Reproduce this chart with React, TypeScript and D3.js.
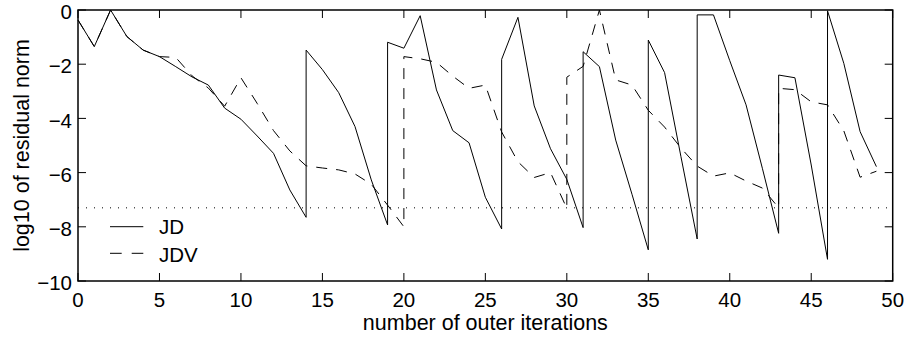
import React from "react";
import * as d3 from "d3";

// iteration index / log10 residual, restarts repeat the x value (vertical jumps)
const jdX = [0, 1, 2, 3, 4, 5, 6, 7, 8, 9, 10, 11, 12, 13, 14, 14, 15, 16, 17, 18, 19, 19, 20, 21, 22, 23, 24, 25, 26, 26, 27, 28, 29, 30, 31, 31, 32, 33, 34, 35, 35, 36, 37, 38, 38, 39, 40, 41, 42, 43, 43, 44, 45, 46, 46, 47, 48, 49];
const jdY = [-0.37, -1.35, 0, -0.98, -1.48, -1.72, -2.09, -2.47, -2.77, -3.62, -4.03, -4.65, -5.29, -6.64, -7.65, -1.48, -2.2, -3.05, -4.3, -6.27, -7.93, -1.19, -1.41, -0.21, -2.95, -4.45, -4.9, -6.91, -8.08, -1.82, -0.27, -3.54, -5.12, -6.25, -8.03, -1.54, -2.09, -4.8, -6.8, -8.85, -1.11, -2.31, -5.4, -8.45, -0.18, -0.18, -1.87, -3.5, -5.84, -8.24, -2.4, -2.5, -5.72, -9.2, -0.03, -1.97, -4.49, -5.78];

const jdvX = [0, 1, 2, 3, 4, 5, 6, 7, 8, 9, 10, 11, 12, 13, 14, 15, 16, 17, 18, 19, 20, 20, 21, 22, 23, 24, 25, 26, 27, 28, 29, 30, 30, 31, 32, 33, 34, 35, 36, 37, 38, 39, 40, 41, 42, 43, 43, 44, 45, 46, 47, 48, 49];
const jdvY = [-0.37, -1.35, 0, -0.98, -1.48, -1.72, -1.75, -2.43, -2.88, -3.55, -2.5, -3.45, -4.45, -5.2, -5.75, -5.83, -5.9, -6.05, -6.43, -7.2, -8.0, -1.72, -1.8, -1.93, -2.44, -2.89, -2.77, -4.5, -5.6, -6.18, -6.0, -7.32, -2.48, -2.08, 0, -2.58, -2.77, -3.7, -4.32, -5.09, -5.76, -6.13, -6.01, -6.31, -6.57, -7.3, -2.89, -2.94, -3.39, -3.5, -4.46, -6.17, -5.95];

const tolerance = -7.3;
const xTicks = [0, 5, 10, 15, 20, 25, 30, 35, 40, 45, 50];
const yTicks = [-10, -8, -6, -4, -2, 0];
const seriesNames = ["JD", "JDV"];

const W = 906;
const H = 339;
const font = "'Liberation Sans', Arial, Helvetica, sans-serif";

export default function App() {
  const x = d3.scaleLinear().domain([0, 50]).range([78, 892.7]);
  const y = d3.scaleLinear().domain([-10, 0]).range([281, 10]);
  const [x0, x1] = x.range();
  const [y0, y1] = y.range();
  const tick = 8;

  const path = (xs: number[], ys: number[]) =>
    d3
      .line<number>()
      .x((i) => x(xs[i]))
      .y((i) => y(ys[i]))(d3.range(xs.length)) || "";

  return (
    <svg
      width={W}
      height={H}
      style={{ position: "absolute", left: 0, top: 0, background: "#fff" }}
      fontFamily={font}
    >
      {/* tolerance */}
      <line
        x1={x0}
        x2={x1}
        y1={y(tolerance)}
        y2={y(tolerance)}
        stroke="#000"
        strokeWidth={1}
        strokeDasharray="1,7"
      />

      <path d={path(jdX, jdY)} fill="none" stroke="#000" strokeWidth={1} />
      <path
        d={path(jdvX, jdvY)}
        fill="none"
        stroke="#000"
        strokeWidth={1}
        strokeDasharray="11,9"
      />

      {/* frame */}
      <rect
        x={x0}
        y={y1}
        width={x1 - x0}
        height={y0 - y1}
        fill="none"
        stroke="#000"
        strokeWidth={1.5}
      />

      {xTicks.map((t) => (
        <g key={"x" + t}>
          <line x1={x(t)} x2={x(t)} y1={y0} y2={y0 - tick} stroke="#000" />
          <line x1={x(t)} x2={x(t)} y1={y1} y2={y1 + tick} stroke="#000" />
          <text x={x(t)} y={y0 + 26} textAnchor="middle" fontSize={20.5}>
            {t}
          </text>
        </g>
      ))}
      {yTicks.map((t) => (
        <g key={"y" + t}>
          <line x1={x0} x2={x0 + tick} y1={y(t)} y2={y(t)} stroke="#000" />
          <line x1={x1} x2={x1 - tick} y1={y(t)} y2={y(t)} stroke="#000" />
          <text x={x0 - 6} y={y(t)} dy="0.45em" textAnchor="end" fontSize={20.5}>
            {t < 0 ? "\u2212" + Math.abs(t) : t}
          </text>
        </g>
      ))}

      <text x={(x0 + x1) / 2} y={330} textAnchor="middle" fontSize={21.5}>
        number of outer iterations
      </text>
      <text
        transform={`translate(29,${(y0 + y1) / 2}) rotate(-90)`}
        textAnchor="middle"
        fontSize={21.5}
      >
        log10 of residual norm
      </text>

      {/* legend */}
      {seriesNames.map((name, i) => (
        <g key={name}>
          <line
            x1={110}
            x2={143.3}
            y1={226.7 + i * 26.6}
            y2={226.7 + i * 26.6}
            stroke="#000"
            strokeDasharray={i === 1 ? "11.7,10" : undefined}
          />
          <text x={159} y={234 + i * 27.5} fontSize={20.5}>
            {name}
          </text>
        </g>
      ))}
    </svg>
  );
}
